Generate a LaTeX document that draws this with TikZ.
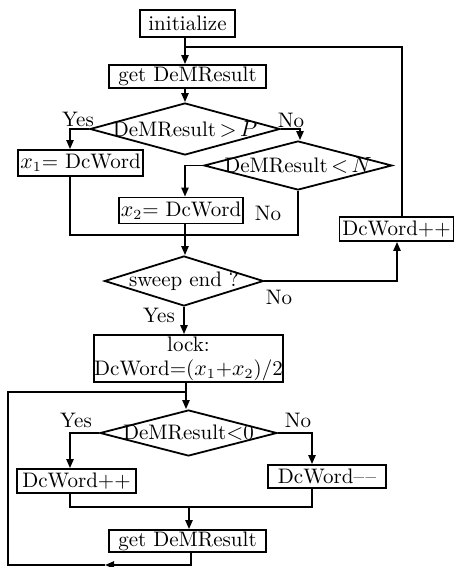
\documentclass[tikz,border=0pt]{standalone}
\usepackage{fontspec}
\usetikzlibrary{shapes.geometric,arrows.meta}
\begin{document}
\begin{tikzpicture}[x={0.5pt},y={-0.5pt},
  font=\fontsize{10.5}{12}\selectfont,
  line width=0.9pt,
  box/.style={draw,rectangle,inner sep=0pt,align=center},
  dia/.style={draw,diamond,inner sep=0pt},
  arr/.style={-{Triangle[length=4.5pt,width=3.6pt]}},
  lbl/.style={inner sep=0pt}]
\useasboundingbox (0,0) rectangle (455,567);
% boxes
\node[box,minimum width=47.5pt,minimum height=13.5pt] (init) at (187.5,23.5) {initialize};
\node[box,minimum width=78.5pt,minimum height=11.5pt] (get1) at (187.5,76.5) {get DeMResult};
\node[dia,minimum width=95pt,minimum height=26pt] (d1) at (185,129) {\makebox[0pt]{DeMResult\,$>$\,$P$}};
\node[box,minimum width=62.5pt,minimum height=13pt] (x1) at (80.5,163) {$x_1$= DcWord};
\node[dia,minimum width=94pt,minimum height=24.5pt] (d2) at (298,165.5) {\makebox[0pt]{DeMResult\,$<$\,$N$}};
\node[box,minimum width=62pt,minimum height=13pt] (x2) at (181,210.5) {$x_2$= DcWord};
\node[dia,minimum width=79.5pt,minimum height=25pt] (d3) at (184,281) {\makebox[0pt]{sweep end ?}};
\node[box,minimum width=57pt,minimum height=12pt] (inc1) at (396.5,229) {DcWord++};
\node[box,minimum width=91.5pt,minimum height=23.5pt] (lock) at (188.5,358.5) {lock:\\DcWord=($x_1$+$x_2$)/2};
\node[dia,minimum width=88.5pt,minimum height=23pt] (d4) at (188.5,433) {\makebox[0pt]{DeMResult$<$0}};
\node[box,minimum width=59.5pt,minimum height=12pt] (inc2) at (76.5,481) {DcWord++};
\node[box,minimum width=59pt,minimum height=11.5pt] (dec) at (327,476.5) {DcWord\textendash\kern0.8pt\textendash};
\node[box,minimum width=78.5pt,minimum height=11pt] (get2) at (187.5,541) {get DeMResult};
% labels
\node[lbl] (ly1) at (78,119) {Yes};
\node[lbl] (ln1) at (291,120) {No};
\node[lbl] (ln2) at (268,213) {No};
\node[lbl] (ln3) at (279,297) {No};
\node[lbl] (ly3) at (159,315) {Yes};
\node[lbl] (ly4) at (76,420) {Yes};
\node[lbl] (ln4) at (298,420) {No};
% coordinates
\coordinate (top) at (185,47);
\coordinate (m1) at (185,235);
\coordinate (m2) at (189,507);
\coordinate (j) at (186,392);
\coordinate (bl) at (8,565);
\coordinate (ba) at (105,565);
% connectors
\draw[arr] (init.south -| top) -- (get1.north -| top);
\draw (inc1.north -| 402,0) |- (top);
\draw[arr] (get1.south -| d1.north) -- (d1.north);
\draw[arr] (d1.west) -| (x1.north -| 70,0);
\draw[arr] (d1.east) -| (d2.north -| 300,0);
\draw[arr] (d2.west) -| (x2.north -| 185,0);
\draw (x1.south -| 70,0) |- (m1) -| (d2.south);
\draw[arr] (x2.south -| 185,0) -- (d3.north -| 185,0);
\draw[arr] (d3.east) -| (inc1.south -| 397,0);
\draw[arr] (d3.south) -- (lock.north -| d3.south);
\draw[arr] (lock.south -| j) -- (d4.north -| j);
\draw[arr] (d4.west) -| (inc2.north -| 70,0);
\draw[arr] (d4.east) -| (dec.north -| 312,0);
\draw (inc2.south -| 70,0) |- (m2) -| (dec.south -| 312,0);
\draw[arr] (m2) -- (get2.north -| m2);
\draw[arr] (get2.south -| 191,0) |- (ba);
\draw (ba) -- (bl) |- (j);
\end{tikzpicture}
\end{document}
